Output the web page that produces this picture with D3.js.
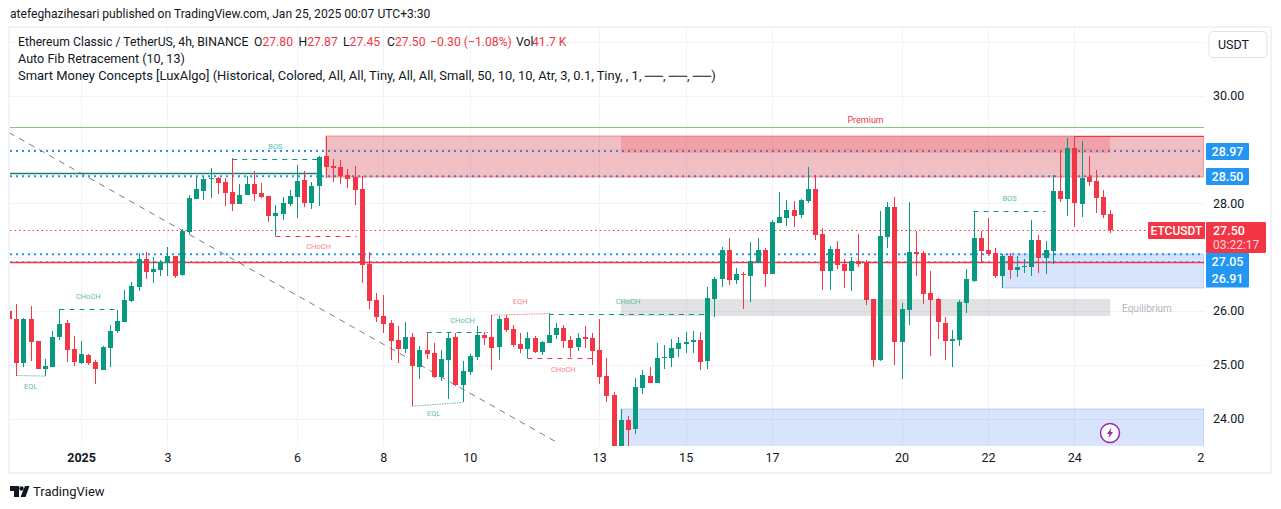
<!DOCTYPE html>
<html>
<head>
<meta charset="utf-8">
<script src="https://cdn.jsdelivr.net/npm/d3@7"></script>
<style>
body { margin: 0; background: #fff; }
text { font-family: Roboto, sans-serif; }
</style>
</head>
<body>
<svg id="chart" width="1281" height="509"></svg>
<script>
// 4h bars, first one is partly hidden behind the left edge (bar -1)
var firstBar = -1;
var opens = [26.00,25.85,25.03,25.85,25.44,24.92,24.96,25.52,25.78,25.29,25.03,25.18,25.05,24.90,25.31,25.63,25.79,26.18,26.44,26.96,
  26.72,26.76,26.89,27.02,26.67,27.47,28.08,28.23,28.45,28.47,28.39,28.21,27.99,28.15,28.36,28.19,28.13,27.76,27.80,27.99,
  28.12,28.43,28.00,28.32,28.88,28.69,28.67,28.52,28.49,28.26,26.87,26.20,25.91,25.78,25.46,25.29,25.52,24.96,25.27,25.22,
  24.77,25.09,25.52,24.62,24.87,25.14,25.55,25.52,25.33,25.87,25.66,25.39,25.29,25.50,25.24,25.40,25.55,25.68,25.46,25.33,
  25.52,25.50,25.27,24.79,24.44,23.30,23.97,23.81,24.57,24.79,24.66,25.13,25.13,25.29,25.39,25.42,25.46,25.07,26.22,26.59,
  27.13,26.57,26.69,26.65,26.89,27.13,26.69,27.63,27.73,27.87,27.78,28.04,28.26,27.43,26.74,27.15,26.87,26.74,26.93,26.91,
  26.22,25.09,27.37,27.93,25.42,26.02,27.09,27.08,26.33,26.22,25.78,25.44,25.46,26.15,26.56,27.35,27.13,27.08,26.65,27.02,
  26.76,26.82,26.82,27.32,26.98,27.11,28.23,28.08,29.03,27.99,28.49,28.41,28.12,27.80];
var highs = [26.00,26.13,25.87,26.09,25.44,25.11,25.63,26.03,25.83,25.53,25.44,25.20,25.09,25.35,25.74,26.02,26.39,26.54,27.07,27.09,
  27.00,26.95,27.19,27.02,27.52,28.15,28.51,28.49,28.65,28.48,28.47,28.84,28.36,28.51,28.60,28.38,28.13,27.97,28.12,28.25,
  28.71,28.60,28.39,28.88,29.25,28.82,28.80,28.64,28.69,28.51,27.09,26.33,26.30,25.83,25.72,25.79,25.59,25.35,25.61,25.40,
  25.27,25.61,25.59,25.07,25.20,25.72,25.61,25.92,25.91,25.92,25.74,25.59,25.61,25.53,25.44,25.96,25.78,25.74,25.53,25.59,
  25.72,25.59,25.85,25.13,24.49,24.18,24.05,24.75,24.90,24.96,25.40,25.37,25.48,25.52,25.61,25.63,25.61,26.44,26.63,27.19,
  27.35,26.80,26.72,27.28,27.35,27.17,27.69,28.21,28.06,28.04,28.08,28.67,28.52,27.54,27.21,27.30,26.96,27.00,27.43,26.95,
  26.22,27.86,28.02,28.12,26.15,28.02,27.48,27.11,26.74,26.24,25.89,25.65,26.20,26.78,27.86,27.48,27.73,27.17,27.06,27.08,
  27.02,26.96,27.69,27.41,27.30,28.52,28.99,29.21,29.25,29.16,28.88,28.62,28.25,27.87];
var lows = [25.85,24.80,24.95,25.07,24.92,24.79,24.96,25.46,25.05,24.98,25.01,25.00,24.64,24.90,24.96,25.59,25.79,26.17,26.37,26.59,
  26.52,26.65,26.65,26.61,26.65,27.43,28.08,28.06,28.10,28.17,27.95,27.86,27.99,28.15,28.04,28.10,27.65,27.40,27.69,27.95,
  27.73,27.93,27.89,27.95,28.47,28.39,28.36,28.28,27.97,26.52,26.04,25.79,25.59,25.09,25.03,25.22,24.23,24.74,25.11,24.75,
  24.70,24.36,24.60,24.31,24.81,25.09,25.37,24.90,25.09,25.61,25.33,25.22,25.13,25.22,25.18,25.40,25.48,25.31,25.14,25.26,
  25.31,25.00,24.64,24.31,23.20,23.20,23.30,23.71,24.46,24.66,24.66,24.92,24.96,25.14,25.22,25.22,24.90,24.92,25.89,26.44,
  26.48,26.50,26.04,26.17,26.89,26.44,26.69,27.63,27.58,27.56,27.73,28.00,27.32,26.39,26.39,26.78,26.43,26.37,26.82,26.11,
  24.96,25.07,27.17,25.00,24.74,25.74,26.65,26.13,25.16,25.48,25.09,24.96,25.35,25.96,26.54,26.89,27.02,26.61,26.43,26.59,
  26.63,26.70,26.65,26.70,26.69,26.87,28.02,27.76,27.56,27.74,28.32,27.82,27.73,27.45];
var closes = [25.85,25.03,25.85,25.42,24.92,24.98,25.52,25.76,25.27,25.05,25.20,25.03,24.92,25.33,25.63,25.81,26.20,26.46,26.96,26.72,
  26.78,26.91,27.02,26.65,27.48,28.10,28.26,28.45,28.47,28.38,28.19,27.99,28.15,28.36,28.17,28.12,27.76,27.82,28.00,28.13,
  28.41,28.00,28.32,28.86,28.67,28.65,28.51,28.45,28.25,26.85,26.18,25.89,25.76,25.44,25.29,25.52,24.98,25.27,25.20,24.77,
  25.11,25.50,24.62,24.88,25.16,25.55,25.50,25.31,25.85,25.65,25.37,25.29,25.50,25.24,25.42,25.55,25.68,25.44,25.31,25.50,
  25.48,25.26,24.77,24.42,23.30,23.97,23.79,24.59,24.81,24.66,25.13,25.14,25.31,25.40,25.42,25.46,25.05,26.24,26.59,27.13,
  26.57,26.69,26.67,26.93,27.13,26.69,27.65,27.74,27.87,27.76,28.06,28.26,27.41,26.74,27.15,26.85,26.74,26.93,26.87,26.20,
  25.09,27.39,27.93,25.42,26.04,27.09,27.06,26.31,26.20,25.79,25.44,25.48,26.17,26.59,27.35,27.11,27.06,26.65,27.02,26.76,
  26.82,26.83,27.32,26.98,27.13,28.23,28.08,29.03,28.00,28.47,28.39,28.10,27.78,27.50];

var priceTicks = [30, 28, 26, 25, 24];
var gridPrices = [31, 30, 29, 28, 27, 26, 25, 24];
var dayBars = [9, 21, 39, 51, 63, 81, 93, 105, 123, 135, 147, 165];
var dayLabels = ["2025", "3", "6", "8", "10", "13", "15", "17", "20", "22", "24", "27"];

var levelPrices = [28.97, 28.50, 27.05, 26.91];
var lastPrice = 27.50;
var redLevel = 26.90;
var greenLevel = 28.55;
var fibTop = 29.41;
var swingHigh = 29.25;

// zones: bar from, bar to, price top, price bottom
var zoneNames = ["premium", "discountLow", "discountHigh", "equilibrium", "premiumStrong"];
var zoneFrom = [43, 84, 137, 84, 84];
var zoneTo = [165, 165, 165, 152, 152];
var zoneTop = [29.25, 24.17, 27.05, 26.22, 29.25];
var zoneBottom = [28.49, 23.40, 26.43, 25.91, 28.93];

// structure lines: bar from, price from, bar to, price to, label
var structFrom = [30, 36, 6, 57, 74, 71, 133];
var structTo = [42, 47.3, 14, 65.5, 96, 81, 143];
var structPrice = [28.83, 27.40, 26.03, 25.61, 25.95, 25.13, 27.86];
var structUp = [true, false, true, true, true, false, true];
var structLabels = ["BOS", "CHoCH", "CHoCH", "CHoCH", "CHoCH", "CHoCH", "BOS"];
var structLabelBars = [36, 42, 10, 62, 85, 76, 138];
var structLabelPrices = [29.06, 27.20, 26.27, 25.83, 26.18, 24.92, 28.09];

var eqFrom = [0, 55, 66];
var eqTo = [4, 62, 74];
var eqPriceFrom = [24.80, 24.23, 25.92];
var eqPriceTo = [24.79, 24.30, 25.95];
var eqLabels = ["EQL", "EQL", "EQH"];
var eqLabelBars = [2, 58, 70];
var eqLabelPrices = [24.60, 24.10, 26.18];

var trendBars = [-1, 75.5];
var trendPrices = [29.31, 23.53];

var paneLeft = 10, paneRight = 1204, paneTop = 28, paneBottom = 446;
var up = "#089981", down = "#f23645", blue = "#2196f3", ink = "#131722";

var svg = d3.select("#chart");
var x = d3.scaleLinear().domain([0, 152]).range([16.3, 1110.3]);
var y = d3.scaleLinear().domain([30, 24]).range([95.5, 418.6]);

svg.append("rect").attr("width", 1281).attr("height", 509).attr("fill", "#fff");
var defs = svg.append("defs");
defs.append("clipPath").attr("id", "pane").append("rect")
    .attr("x", paneLeft).attr("y", paneTop).attr("width", paneRight - paneLeft).attr("height", paneBottom - paneTop);
defs.append("clipPath").attr("id", "timeClip").append("rect")
    .attr("x", paneLeft).attr("y", paneBottom).attr("width", paneRight - paneLeft).attr("height", 30);

svg.append("text").attr("x", 10).attr("y", 18).attr("font-size", 12.1).attr("fill", ink)
    .text("atefeghazihesari published on TradingView.com, Jan 25, 2025 00:07 UTC+3:30");

// frame
svg.append("rect").attr("x", 9).attr("y", 27).attr("width", 1262).attr("height", 446)
    .attr("fill", "none").attr("stroke", "#f0f3fa").attr("stroke-width", 2);

var pane = svg.append("g").attr("clip-path", "url(#pane)");

// grid
pane.selectAll(".gridH").data(gridPrices).enter().append("line")
    .attr("x1", paneLeft).attr("x2", paneRight + 64)
    .attr("y1", function (d) { return Math.round(y(d)) + 0.5; }).attr("y2", function (d) { return Math.round(y(d)) + 0.5; })
    .attr("stroke", "#f0f3fa");
pane.selectAll(".gridV").data(dayBars).enter().append("line")
    .attr("x1", function (d) { return Math.round(x(d)) + 0.5; }).attr("x2", function (d) { return Math.round(x(d)) + 0.5; })
    .attr("y1", paneTop).attr("y2", paneBottom)
    .attr("stroke", "#f0f3fa");

// dotted levels sit under the zones
pane.selectAll(".level").data(levelPrices).enter().append("line")
    .attr("x1", paneLeft).attr("x2", paneRight)
    .attr("y1", function (d) { return y(d); }).attr("y2", function (d) { return y(d); })
    .attr("stroke", blue).attr("stroke-width", function (d, i) { return i == 3 ? 1.5 : 2; }).attr("stroke-dasharray", "2 4");

// zones
var zoneFill = { premium: "rgba(208,72,82,0.35)", premiumStrong: "rgba(242,54,69,0.22)", discountLow: "rgba(40,110,240,0.19)", discountHigh: "rgba(40,110,240,0.19)", equilibrium: "rgba(120,123,134,0.22)" };
var zoneEdge = { premium: "rgba(242,54,69,0.5)", premiumStrong: "none", discountLow: "rgba(40,110,240,0.25)", discountHigh: "rgba(40,110,240,0.25)", equilibrium: "none" };
zoneNames.forEach(function (name, i) {
    pane.append("rect")
        .attr("x", Math.round(x(zoneFrom[i]))).attr("y", Math.round(y(zoneTop[i])))
        .attr("width", x(zoneTo[i]) - Math.round(x(zoneFrom[i])))
        .attr("height", Math.round(y(zoneBottom[i])) - Math.round(y(zoneTop[i])))
        .attr("fill", zoneFill[name]).attr("stroke", zoneEdge[name]);
});

// trend line
pane.append("line")
    .attr("x1", x(trendBars[0])).attr("y1", y(trendPrices[0])).attr("x2", x(trendBars[1])).attr("y2", y(trendPrices[1]))
    .attr("stroke", "#787b86").attr("stroke-width", 1).attr("stroke-dasharray", "6 5.5");

// fib and level lines
pane.append("line").attr("x1", paneLeft).attr("x2", paneRight)
    .attr("y1", Math.round(y(fibTop)) + 0.5).attr("y2", Math.round(y(fibTop)) + 0.5)
    .attr("stroke", "#81c784");
pane.append("line").attr("x1", paneLeft).attr("x2", x(42))
    .attr("y1", y(greenLevel)).attr("y2", y(greenLevel))
    .attr("stroke", "#1b7f6b").attr("stroke-width", 1.5);
pane.append("line").attr("x1", paneLeft).attr("x2", paneRight)
    .attr("y1", y(redLevel)).attr("y2", y(redLevel))
    .attr("stroke", down).attr("stroke-width", 1.5);
pane.append("line").attr("x1", x(147)).attr("x2", paneRight)
    .attr("y1", Math.round(y(swingHigh)) + 0.5).attr("y2", Math.round(y(swingHigh)) + 0.5)
    .attr("stroke", down).attr("stroke-width", 1);
pane.append("line").attr("x1", paneLeft).attr("x2", 1148)
    .attr("y1", Math.round(y(lastPrice)) + 0.5).attr("y2", Math.round(y(lastPrice)) + 0.5)
    .attr("stroke", down).attr("stroke-width", 1).attr("stroke-dasharray", "1.5 3");

// structure
structFrom.forEach(function (from, i) {
    pane.append("line")
        .attr("x1", x(from)).attr("x2", x(structTo[i]))
        .attr("y1", Math.round(y(structPrice[i])) + 0.5).attr("y2", Math.round(y(structPrice[i])) + 0.5)
        .attr("stroke", structUp[i] ? up : down).attr("stroke-dasharray", "5 5");
    pane.append("text")
        .attr("x", x(structLabelBars[i])).attr("y", y(structLabelPrices[i]))
        .attr("text-anchor", "middle").attr("dominant-baseline", "central")
        .attr("font-size", 7.5)
        .attr("fill", structUp[i] ? "#5dbdaa" : "#f9828c")
        .text(structLabels[i]);
});
eqFrom.forEach(function (from, i) {
    var isHigh = eqLabels[i] == "EQH";
    pane.append("line")
        .attr("x1", x(from)).attr("y1", y(eqPriceFrom[i])).attr("x2", x(eqTo[i])).attr("y2", y(eqPriceTo[i]))
        .attr("stroke", isHigh ? "#f9828c" : "#5dbdaa").attr("stroke-dasharray", "1.5 1");
    pane.append("text")
        .attr("x", x(eqLabelBars[i])).attr("y", y(eqLabelPrices[i]))
        .attr("text-anchor", "middle").attr("dominant-baseline", "central")
        .attr("font-size", 7.5).attr("fill", isHigh ? "#f9828c" : "#5dbdaa")
        .text(eqLabels[i]);
});

pane.append("text").attr("x", x(118)).attr("y", y(29.545)).attr("text-anchor", "middle")
    .attr("dominant-baseline", "central").attr("font-size", 9).attr("fill", down).text("Premium");
svg.append("text").attr("x", 1147).attr("y", y(26.05)).attr("text-anchor", "middle")
    .attr("dominant-baseline", "central").attr("font-size", 10).attr("fill", "#b2b5be").text("Equilibrium");

// candles
var bars = opens.map(function (o, i) {
    return { bar: i + firstBar, open: o, high: highs[i], low: lows[i], close: closes[i] };
});
var candle = pane.selectAll(".candle").data(bars).enter().append("g");
candle.append("rect")
    .attr("x", function (d) { return Math.round(x(d.bar)); })
    .attr("y", function (d) { return Math.round(y(d.high)); })
    .attr("width", 1)
    .attr("height", function (d) { return Math.max(1, Math.round(y(d.low)) - Math.round(y(d.high))); })
    .attr("fill", function (d) { return d.close >= d.open ? up : down; });
candle.append("rect")
    .attr("x", function (d) { return Math.round(x(d.bar)) - 2; })
    .attr("y", function (d) { return Math.round(y(Math.max(d.open, d.close))); })
    .attr("width", 5)
    .attr("height", function (d) { return Math.max(1, Math.round(y(Math.min(d.open, d.close))) - Math.round(y(Math.max(d.open, d.close)))); })
    .attr("fill", function (d) { return d.close >= d.open ? up : down; });

// lightning mark
var mark = svg.append("g").attr("transform", "translate(1110,433)");
mark.append("circle").attr("r", 9.5).attr("fill", "#fff").attr("stroke", "#9c27b0").attr("stroke-width", 1.5);
mark.append("path").attr("d", "M1.5,-5.5 L-3,1 L-0.5,1 L-1.5,5.5 L3,-1 L0.5,-1 Z").attr("fill", "#9c27b0");

// axes
var priceAxis = d3.axisRight(y).tickValues(priceTicks).tickSize(0).tickPadding(9)
    .tickFormat(function (d) { return d3.format(".2f")(d); });
var gy = svg.append("g").attr("transform", "translate(" + paneRight + ",0)").call(priceAxis);
gy.select(".domain").remove();
gy.selectAll("text").attr("font-size", 12.5).attr("fill", ink).attr("font-family", "Roboto, sans-serif");

var timeAxis = d3.axisBottom(x).tickValues(dayBars).tickSize(0).tickPadding(0)
    .tickFormat(function (d) { return dayLabels[dayBars.indexOf(d)]; });
var gx = svg.append("g").attr("clip-path", "url(#timeClip)").append("g").attr("transform", "translate(0,453)").call(timeAxis);
gx.select(".domain").remove();
gx.selectAll("text").attr("font-size", 12.5).attr("fill", ink).attr("font-family", "Roboto, sans-serif")
    .attr("font-weight", function (d) { return d == 9 ? 700 : 400; });

// level badges
[[143, 17, "28.97"], [168, 17, "28.50"]].forEach(function (b) {
    svg.append("rect").attr("x", 1206).attr("y", b[0]).attr("width", 43).attr("height", b[1]).attr("rx", 1).attr("fill", blue);
    svg.append("text").attr("x", 1227.5).attr("y", b[0] + 13).attr("text-anchor", "middle")
        .attr("font-size", 12.5).attr("font-weight", 500).attr("fill", "#fff").text(b[2]);
});
svg.append("rect").attr("x", 1206).attr("y", 253).attr("width", 43).attr("height", 34.5).attr("rx", 1).attr("fill", blue);
svg.append("text").attr("x", 1227.5).attr("y", 266).attr("text-anchor", "middle")
    .attr("font-size", 12.5).attr("font-weight", 500).attr("fill", "#fff").text("27.05");
svg.append("text").attr("x", 1227.5).attr("y", 283).attr("text-anchor", "middle")
    .attr("font-size", 12.5).attr("font-weight", 500).attr("fill", "#fff").text("26.91");

svg.append("rect").attr("x", 1148).attr("y", 222).attr("width", 57).attr("height", 17).attr("rx", 1).attr("fill", down);
svg.append("text").attr("x", 1176.5).attr("y", 235).attr("text-anchor", "middle")
    .attr("font-size", 12).attr("font-weight", 500).attr("fill", "#fff").text("ETCUSDT");
svg.append("rect").attr("x", 1206).attr("y", 222).attr("width", 60).attr("height", 31).attr("rx", 1).attr("fill", down);
svg.append("text").attr("x", 1213).attr("y", 235).attr("font-size", 12.5).attr("font-weight", 500).attr("fill", "#fff").text("27.50");
svg.append("text").attr("x", 1213).attr("y", 249).attr("font-size", 12).attr("fill", "#fcd5d8").text("03:22:17");

// currency button
svg.append("rect").attr("x", 1209).attr("y", 31.5).attr("width", 58).attr("height", 26).attr("rx", 4)
    .attr("fill", "#fff").attr("stroke", "#e0e3eb");
svg.append("text").attr("x", 1218).attr("y", 49).attr("font-size", 12.5).attr("fill", ink).text("USDT");

// legend
var legendTop = svg.append("text").attr("y", 46).attr("font-size", 12.2).attr("fill", ink);
[["Ethereum Classic / TetherUS, 4h, BINANCE", ink, 18], ["O", ink, 254], ["27.80", down, null], ["H", ink, 298.5], ["27.87", down, null],
 ["L", ink, 343], ["27.45", down, null], ["C", ink, 387], ["27.50", down, null], ["\u22120.30 (\u22121.08%)", down, 430], ["Vol", ink, 516], ["41.7 K", down, 532]]
.forEach(function (p) {
    var span = legendTop.append("tspan").attr("fill", p[1]).text(p[0]);
    if (p[2] !== null) span.attr("x", p[2]);
});
svg.append("text").attr("x", 18).attr("y", 63).attr("font-size", 12.6).attr("fill", ink).text("Auto Fib Retracement (10, 13)");
svg.append("text").attr("x", 18).attr("y", 80).attr("font-size", 12.94).attr("fill", ink)
    .text("Smart Money Concepts [LuxAlgo] (Historical, Colored, All, All, Tiny, All, All, Small, 50, 10, 10, Atr, 3, 0.1, Tiny, , 1, \u2500\u2500, \u2500\u2500, \u2500\u2500)");

// footer logo
svg.append("path").attr("d", "M10,486 H19 V497 H14 V491 H10 Z M25,486 H29.5 L25.5,497 H20.5 Z").attr("fill", ink);
svg.append("circle").attr("cx", 21.5).attr("cy", 488.5).attr("r", 2.2).attr("fill", ink);
svg.append("text").attr("x", 33).attr("y", 496).attr("font-size", 13).attr("fill", ink).text("TradingView");
</script>
</body>
</html>
